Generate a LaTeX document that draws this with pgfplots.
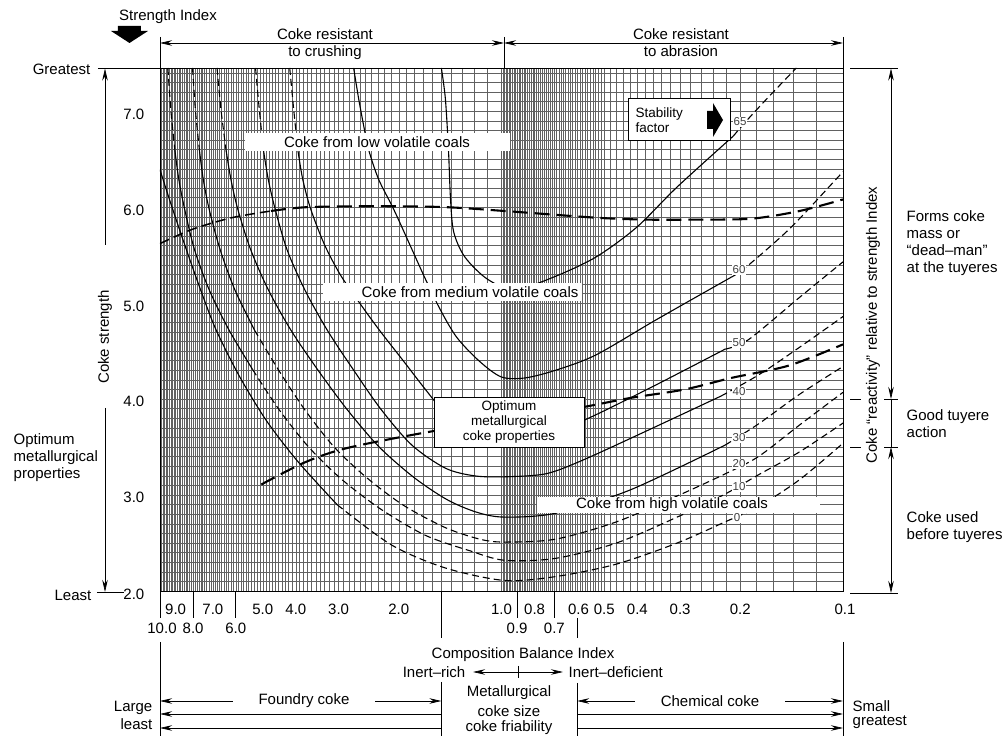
\documentclass[border=0pt]{standalone}
\usepackage{fontspec}
\setmainfont{Liberation Sans}
\usepackage{pgfplots}
\pgfplotsset{compat=1.18}
\usetikzlibrary{arrows.meta}
\newcommand{\fs}{\fontsize{15}{17}\selectfont}
\newcommand{\fss}{\fontsize{13.5}{15}\selectfont}
\newcommand{\fsl}{\fontsize{11.5}{13}\selectfont}
\pgfplotsset{
  sol/.style={black, line width=1.1pt, smooth, no markers},
  dsh/.style={black, line width=1.1pt, smooth, no markers, dash pattern=on 7pt off 4pt},
  hvy/.style={black, line width=2.1pt, smooth, no markers, dash pattern=on 15pt off 7pt},
  mhv/.style={black, line width=1.5pt, smooth, no markers, dash pattern=on 10pt off 5pt},
}
\begin{document}
\begin{tikzpicture}
\useasboundingbox (-160pt,-145pt) rectangle (847pt,591pt);
\begin{axis}[
  at={(0pt,0pt)}, anchor=south west,
  scale only axis, width=683pt, height=523pt,
  xmode=log, x dir=reverse, xmin=0.1, xmax=10, ymin=2, ymax=7.45,
  xtick={0.1,0.12,0.14,0.16,0.18,
    0.2,0.22,0.24,0.26,0.28,0.3,0.32,0.34,0.36,0.38,0.4,0.42,0.44,0.46,0.48,
    0.5,0.51,0.52,0.53,0.54,0.55,0.56,0.57,0.58,0.59,
    0.6,0.61,0.62,0.63,0.64,0.65,0.66,0.67,0.68,0.69,
    0.7,0.71,0.72,0.73,0.74,0.75,0.76,0.77,0.78,0.79,
    0.8,0.81,0.82,0.83,0.84,0.85,0.86,0.87,0.88,0.89,
    0.9,0.91,0.92,0.93,0.94,0.95,0.96,0.97,0.98,0.99,
    1,1.1,1.2,1.3,1.4,1.5,1.6,1.7,1.8,1.9,
    2,2.1,2.2,2.3,2.4,2.5,2.6,2.7,2.8,2.9,
    3,3.1,3.2,3.3,3.4,3.5,3.6,3.7,3.8,3.9,
    4,4.1,4.2,4.3,4.4,4.5,4.6,4.7,4.8,4.9,
    5,5.1,5.2,5.3,5.4,5.5,5.6,5.7,5.8,5.9,
    6,6.1,6.2,6.3,6.4,6.5,6.6,6.7,6.8,6.9,
    7,7.1,7.2,7.3,7.4,7.5,7.6,7.7,7.8,7.9,
    8,8.1,8.2,8.3,8.4,8.5,8.6,8.7,8.8,8.9,
    9,9.1,9.2,9.3,9.4,9.5,9.6,9.7,9.8,9.9,10},
  ytick={2,2.1,...,7.45},
  xticklabels=\empty, yticklabels=\empty,
  major tick length=0pt, tick style={draw=none},
  xmajorgrids=true, ymajorgrids=true,
  major grid style={black!62, line width=0.4pt},
  axis line style={line width=0.9pt},
  clip mode=individual,
]
% ---- iso-stability curves: 65
\addplot[sol] coordinates {(1.50,7.45) (1.46,7.13) (1.43,6.60) (1.41,6.08) (1.38,5.74) (1.28,5.48) (1.10,5.25) (0.915,5.14) (0.705,5.27) (0.529,5.48) (0.402,5.79) (0.306,6.21) (0.2096,6.74)};
\addplot[dsh] coordinates {(0.2096,6.74) (0.1917,6.90) (0.165,7.15) (0.137,7.45)};
% 60
\addplot[sol] coordinates {(2.71,7.45) (2.62,7.13) (2.53,6.84) (2.45,6.60) (2.29,6.29) (2.07,5.98) (1.84,5.58) (1.67,5.25) (1.51,4.93) (1.35,4.64) (1.157,4.39) (1.0,4.23) (0.854,4.22) (0.695,4.30) (0.529,4.46) (0.351,4.83) (0.2125,5.27)};
\addplot[dsh] coordinates {(0.2125,5.27) (0.193,5.37) (0.1438,5.77) (0.1093,6.22) (0.1,6.37)};
% 50
\addplot[dsh] coordinates {(4.17,7.45) (4.06,7.02) (3.95,6.60)};
\addplot[sol] coordinates {(3.95,6.60) (3.82,6.29) (3.62,5.98) (3.30,5.61) (2.97,5.30) (2.65,5.04) (2.28,4.72) (1.95,4.41) (1.67,4.10) (1.46,3.85) (1.24,3.66) (1.013,3.58) (0.798,3.61) (0.590,3.76) (0.375,4.10) (0.2215,4.52)};
\addplot[dsh] coordinates {(0.2215,4.52) (0.189,4.62) (0.134,5.06) (0.1,5.43)};
% 40
\addplot[dsh] coordinates {(5.25,7.45) (5.12,7.02) (4.98,6.60)};
\addplot[sol] coordinates {(4.98,6.60) (4.82,6.29) (4.60,5.98) (4.25,5.56) (3.77,5.14) (3.24,4.72) (2.72,4.31) (2.25,3.89) (1.83,3.52) (1.46,3.28) (1.20,3.20) (0.98,3.19) (0.745,3.22) (0.590,3.35) (0.402,3.62) (0.228,4.03)};
\addplot[dsh] coordinates {(0.228,4.03) (0.177,4.25) (0.134,4.54) (0.1,4.86)};
% 30
\addplot[dsh] coordinates {(6.81,7.45) (6.63,7.02) (6.41,6.60)};
\addplot[sol] coordinates {(6.41,6.60) (6.20,6.29) (5.92,5.98) (5.43,5.56) (4.82,5.14) (4.14,4.72) (3.46,4.31) (2.83,3.89) (2.28,3.50) (1.80,3.18) (1.44,2.95) (1.18,2.82) (0.98,2.77) (0.695,2.81) (0.422,3.05) (0.2215,3.52)};
\addplot[dsh] coordinates {(0.2215,3.52) (0.177,3.74) (0.134,4.05) (0.1,4.34)};
% 20
\addplot[dsh] coordinates {(8.03,7.45) (7.88,7.02) (7.67,6.60)};
\addplot[sol] coordinates {(7.67,6.60) (7.47,6.29) (7.18,5.98) (6.67,5.56) (6.04,5.14) (5.29,4.72)};
\addplot[dsh] coordinates {(5.29,4.72) (4.51,4.31) (3.77,3.89) (3.09,3.50) (2.48,3.18) (1.93,2.89) (1.46,2.66) (1.157,2.54) (0.98,2.51) (0.695,2.54) (0.461,2.72) (0.306,2.99) (0.2215,3.22) (0.177,3.40) (0.134,3.73) (0.1,4.07)};
% 10
\addplot[dsh] coordinates {(9.48,7.45) (9.30,7.02) (9.05,6.60)};
\addplot[sol] coordinates {(9.05,6.60) (8.81,6.29) (8.47,5.98) (7.93,5.56) (7.18,5.14) (6.28,4.72) (5.36,4.31)};
\addplot[dsh] coordinates {(5.36,4.31) (4.48,3.89) (3.67,3.50) (2.93,3.16) (2.25,2.85) (1.67,2.58) (1.24,2.42) (0.98,2.32) (0.695,2.34) (0.461,2.50) (0.306,2.77) (0.2215,3.01) (0.177,3.21) (0.134,3.45) (0.1,3.75)};
% 0
\addplot[sol] coordinates {(10,6.39) (9.48,6.13) (8.87,5.82) (8.19,5.46) (7.52,5.09) (6.85,4.72) (5.88,4.25) (4.89,3.78) (3.95,3.35) (3.03,2.90)};
\addplot[dsh] coordinates {(3.03,2.90) (2.10,2.48) (1.46,2.24) (0.98,2.11) (0.695,2.15) (0.461,2.28) (0.306,2.50) (0.2215,2.72) (0.177,2.88) (0.134,3.16) (0.1,3.54)};
% ---- boundary lines
\addplot[mhv] coordinates {(10,5.62) (8.03,5.77) (6.16,5.89) (4.73,5.96)};
\addplot[hvy] coordinates {(4.73,5.96) (3.70,6.00) (2.28,6.01) (1.46,6.00) (0.98,5.96) (0.529,5.89) (0.375,5.87) (0.267,5.87) (0.185,5.88) (0.134,5.96) (0.1,6.08)};
\addplot[hvy] coordinates {(5.05,3.11) (3.77,3.34) (2.83,3.49) (1.62,3.66) (0.98,3.78) (0.590,3.91) (0.422,4.01) (0.291,4.10) (0.2125,4.22) (0.1438,4.35) (0.1,4.57)};
\end{axis}
% ================= annotations (pixel frame) =================
\begin{scope}[x=1pt,y=-1pt,shift={(-160pt,591pt)}, font=\fs, line width=0.7pt,
  >={Stealth[length=12pt,width=5.5pt]}]
% boxes inside the plot
\fill[white] (245,133) rectangle (510,151);
\node at (377,142) {Coke from low volatile coals};
\fill[white] (323,283) rectangle (582,301);
\node at (470,292) {Coke from medium volatile coals};
\fill[white] (537,497) rectangle (820,513);
\node at (672,505) {Coke from high volatile coals};
\draw[line width=0.9pt, fill=white] (434,397) rectangle (584,447);
\node[align=center, font=\fss] at (509,422) {Optimum\\metallurgical\\coke properties};
\draw[line width=0.9pt, fill=white] (628,98) rectangle (730,140);
\node[align=left, anchor=west, font=\fss] at (632,120) {Stability\\factor};
\fill (707,111) -- (713,111) -- (713,103) -- (723,120) -- (713,137) -- (713,129) -- (707,129) -- cycle;
% curve labels
\begin{scope}[every node/.style={fill=white, inner sep=0.8pt, text=black!75, font=\fsl}]
\node at (740,122) {65};
\node at (739,270) {60};
\node at (739,343) {50};
\node at (739,392) {40};
\node at (739,438) {30};
\node at (739,464) {20};
\node at (739,487) {10};
\node at (737,518) {0};
\end{scope}
% top
\node at (168,17) {Strength Index};
\fill (118,26) -- (141,26) -- (141,31) -- (148,31) -- (129.5,43) -- (111,31) -- (118,31) -- cycle;
\draw (160,37) -- (160,68);
\draw (504,37) -- (504,68);
\draw (843,37) -- (843,68);
\draw[<->] (160,43) -- (504,43);
\draw[<->] (504,43) -- (843,43);
\node[anchor=base] at (325,40) {Coke resistant};
\node[anchor=base] at (325,57) {to crushing};
\node[anchor=base] at (681,40) {Coke resistant};
\node[anchor=base] at (681,57) {to abrasion};
% left
\node[anchor=east] at (94,69) {Greatest};
\draw (98,68) -- (160,68);
\draw[->] (105,245) -- (105,68.5);
\node[rotate=90] at (105,337) {Coke strength};
\draw[->] (105,408) -- (105,592);
\node[anchor=east] at (95,595) {Least};
\draw (97,592) -- (124,592);
\node[anchor=east] at (148,114) {7.0};
\node[anchor=east] at (148,210) {6.0};
\node[anchor=east] at (148,306) {5.0};
\node[anchor=east] at (148,401) {4.0};
\node[anchor=east] at (148,497) {3.0};
\node[anchor=east] at (148,594) {2.0};
\node[anchor=west, align=left] at (10,458) {Optimum\\metallurgical\\properties};
% right
\draw (850,68) -- (898,68);
\draw[<->] (891,68.5) -- (891,399);
\draw (891,399) -- (891,447);
\draw[<->] (891,447) -- (891,593);
\draw (850,399) -- (861,399); \draw (884,399) -- (898,399);
\draw (850,447) -- (861,447); \draw (884,447) -- (898,447);
\draw (850,593) -- (898,593);
\node[rotate=90] at (873,325) {Coke “reactivity” relative to strength Index};
\node[anchor=west, align=left] at (903,243) {Forms coke\\mass or\\“dead–man”\\at the tuyeres};
\node[anchor=west, align=left] at (903,424) {Good tuyere\\action};
\node[anchor=west, align=left] at (903,527) {Coke used\\before tuyeres};
% x tick labels (row 1 and row 2)
\node at (175.6,609) {9.0};
\node at (212.9,609) {7.0};
\node at (262.8,609) {5.0};
\node at (295.9,609) {4.0};
\node at (338.6,609) {3.0};
\node at (398.7,609) {2.0};
\node at (501.5,609) {1.0};
\node at (534.6,609) {0.8};
\node at (578.5,609) {0.6};
\node at (604.3,609) {0.5};
\node at (637.4,609) {0.4};
\node at (680.1,609) {0.3};
\node at (740.2,609) {0.2};
\node at (845,609) {0.1};
\node at (162,628) {10.0};
\node at (193.1,628) {8.0};
\node at (235.7,628) {6.0};
\node at (517.1,628) {0.9};
\node at (554.4,628) {0.7};
\draw (160,592) -- (160,618);
\draw (193.1,592) -- (193.1,618);
\draw (235.7,592) -- (235.7,618);
\draw (517.1,592) -- (517.1,618);
\draw (554.4,592) -- (554.4,618);
\draw (441.4,592) -- (441.4,638);
\draw (577.2,618) -- (577.2,638);
% bottom brackets
\draw (160,642) -- (160,736);
\draw (441.4,682) -- (441.4,736);
\draw (577.2,683) -- (577.2,736);
\draw (843,642) -- (843,736);
\node at (523,655) {Composition Balance Index};
\node[anchor=east] at (469,672) {Inert–rich};
\draw[<->] (473,672) -- (563,672);
\draw (518,666) -- (518,678);
\node[anchor=west] at (565,672) {Inert–deficient};
\draw[<-] (160,701) -- (233,701);
\node at (304,701) {Foundry coke};
\draw[->] (375,701) -- (441.4,701);
\draw[<-] (160,714) -- (441.4,714);
\draw[<-] (160,728) -- (441.4,728);
\draw[<-] (577.2,701) -- (635,701);
\node at (710,701) {Chemical coke};
\draw[->] (785,701) -- (843,701);
\draw[->] (577.2,714) -- (843,714);
\draw[->] (577.2,728) -- (843,728);
\node[anchor=east] at (156,708) {Large};
\node[anchor=east] at (156,724) {least};
\node[anchor=west] at (849,706) {Small};
\node[anchor=west] at (849,722) {greatest};
\node at (509,693) {Metallurgical};
\node at (509,711) {coke size};
\node at (509,728) {coke friability};
\end{scope}
\end{tikzpicture}
\end{document}
